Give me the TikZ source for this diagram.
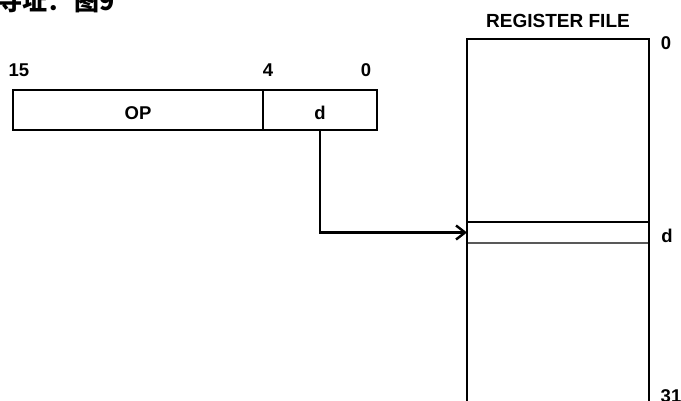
\documentclass[tikz,border=0pt]{standalone}
\usepackage{fontspec}
\setmainfont{Liberation Sans}
\newfontfamily\cjk{Noto Sans CJK SC}
\usetikzlibrary{arrows.meta}
\begin{document}
\begin{tikzpicture}[x=1pt,y=-1pt,
  lbl/.style={font=\bfseries\fontsize{18.5}{19}\selectfont, inner sep=0pt, anchor=base},
  reglbl/.style={font=\bfseries\fontsize{19}{20}\selectfont, inner sep=0pt, anchor=base},
  box/.style={inner sep=0pt, outer sep=0pt, anchor=north west},
  heavy/.style={line width=2.8pt},
  thinline/.style={line width=1.5pt},
  link/.style={line width=2.6pt, -{Straight Barb[length=9pt,width=14pt,line width=2.4pt]}}]
\useasboundingbox (0,0) rectangle (681,401);
\clip (0,0) rectangle (681,401);
% cut-off caption
\node[anchor=base west, inner sep=0pt, font=\cjk\bfseries\fontsize{25}{25}\selectfont] (cap) at (-3,11) {寻址：\hspace{2pt}图9};
% instruction word
\node[box, minimum width=250pt, minimum height=40pt] (opf) at (13,90) {};
\node[box, minimum width=114pt, minimum height=40pt] (df) at (263,90) {};
\draw[thinline] (opf.north east) -- (opf.south east);
\draw[heavy] (opf.north west) rectangle (df.south east);
\node[lbl] (optxt) at (138,120) {OP};
\node[lbl] (dtxt) at (320,120) {d};
\node[lbl] (b15) at (19,77) {15};
\node[lbl] (b4) at (268,77) {4};
\node[lbl] (b0) at (366,77) {0};
% register file
\node[reglbl] (rftxt) at (558,28) {REGISTER FILE};
\node[box, minimum width=182pt, minimum height=21pt] (slot) at (467,222) {};
\draw[thinline] (slot.north west) -- (slot.north east);
\draw[thinline, gray!70!black] (slot.south west) -- (slot.south east);
\node[box, minimum width=182pt, minimum height=380pt] (rf) at (467,39) {};
\draw[heavy] (rf.south west) -- (rf.north west) -- (rf.north east) -- (rf.south east);
\node[lbl] (r0) at (666,50) {0};
\node[lbl] (rd) at (667,243) {d};
\node[lbl] (r31) at (671,402) {31};
% connector
\draw[link] (df.south) |- (slot.west);
\end{tikzpicture}
\end{document}
